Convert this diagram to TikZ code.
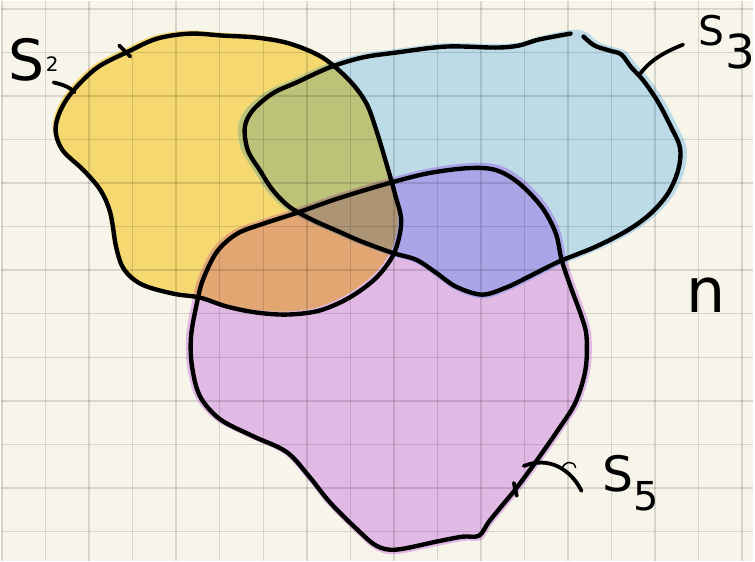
\documentclass[tikz,border=0pt]{standalone}
\usepackage{fontspec}
\setmainfont{DejaVu Sans}
\usetikzlibrary{arrows.meta,positioning}
\definecolor{paper}{RGB}{247,245,233}
\definecolor{setyellow}{RGB}{245,216,112}
\definecolor{setblue}{RGB}{189,219,231}
\definecolor{setpurple}{RGB}{224,186,229}
\definecolor{mixyb}{RGB}{188,194,120}
\definecolor{mixyp}{RGB}{225,166,114}
\definecolor{mixbp}{RGB}{169,165,230}
\definecolor{mixall}{RGB}{172,148,116}

% blob outlines, pixel units (y down)
\newcommand\blobStwo{plot[smooth cycle, tension=0.55] coordinates {
  (128,51) (157,38) (190,33) (223,35) (257,37) (290,43) (323,57) (350,80)
  (367,103) (377,130) (387,163) (396,195) (402,222) (395,253) (377,278)
  (350,298) (320,311) (288,315) (257,313) (227,307) (200,298) (173,294)
  (142,285) (124,270) (116,248) (110,213) (100,190) (83,170) (62,150)
  (55,130) (60,110) (73,90) (97,67)}}
\newcommand\blobSthree{plot[smooth cycle, tension=0.55] coordinates {
  (585,36) (596,45) (611,50) (623,54) (633,67) (645,80) (660,102) (673,127)
  (682,148) (680,170) (670,193) (653,213) (630,230) (597,247) (560,262)
  (530,277) (507,288) (483,295) (457,287) (437,273) (417,260) (393,253)
  (363,242) (340,232) (313,220) (290,207) (273,190) (260,170) (248,150)
  (245,127) (253,110) (273,93) (297,82) (330,67) (363,57) (397,52) (447,46)
  (497,47) (520,45) (540,39) (572,33)}}
\newcommand\lineSthree{plot[smooth, tension=0.55] coordinates {
  (585,36) (596,45) (611,50) (623,54) (633,67) (645,80) (660,102) (673,127)
  (682,148) (680,170) (670,193) (653,213) (630,230) (597,247) (560,262)
  (530,277) (507,288) (483,295) (457,287) (437,273) (417,260) (393,253)
  (363,242) (340,232) (313,220) (290,207) (273,190) (260,170) (248,150)
  (245,127) (253,110) (273,93) (297,82) (330,67) (363,57) (397,52) (447,46)
  (497,47) (520,45) (540,39) (572,33)}}
\newcommand\blobSfive{plot[smooth cycle, tension=0.55] coordinates {
  (203,280) (217,252) (237,234) (263,224) (297,213) (340,198) (390,183)
  (430,173) (470,168) (497,170) (520,183) (543,207) (557,233) (563,260)
  (572,287) (583,317) (588,337) (587,370) (577,403) (560,430) (537,463)
  (517,490) (503,507) (490,523) (480,537) (463,538) (437,543) (397,551)
  (377,547) (357,530) (330,503) (310,478) (287,453) (253,437) (220,420)
  (200,397) (192,367) (191,337) (197,303)}}

\begin{document}
\begin{tikzpicture}[x=1pt, y=-1pt,
    gridline/.style={black, opacity=0.13, line width=1.5pt},
    outline/.style={black, line width=4.4pt, line cap=round, line join=round},
    leader/.style={black, line width=3.8pt, line cap=round},
    padS2/.style={shift={(-3,-3)}},
    padS3/.style={scale around={1.03:(465,165)}},
    padS5/.style={scale around={1.025:(390,370)}},
    setlabel/.style={anchor=base west, inner sep=0pt, text=black}
  ]
    \fill[paper] (0,0) rectangle (755,562);

    % plain fills
    \fill[setyellow, padS2] \blobStwo;
    \fill[setblue, padS3] \blobSthree;
    \fill[setpurple, padS5] \blobSfive;

    % overlaps
    \begin{scope}
      \clip[padS2] \blobStwo;
      \fill[mixyb, padS3] \blobSthree;
      \fill[mixyp, padS5] \blobSfive;
    \end{scope}
    \begin{scope}
      \clip[padS3] \blobSthree;
      \fill[mixbp, padS5] \blobSfive;
    \end{scope}
    \begin{scope}
      \clip[padS2] \blobStwo;
      \clip[padS3] \blobSthree;
      \fill[mixall, padS5] \blobSfive;
    \end{scope}

    % squared paper
    \foreach \i in {0,...,17}
      \draw[gridline] ({1.3+43.7*\i},0) -- ({1.3+43.7*\i},562);
    \foreach \j in {0,...,12}
      \draw[gridline] (0,{8.3+43.7*\j}) -- (755,{8.3+43.7*\j});

    % outlines
    \draw[outline] \blobStwo;
    \draw[outline] \lineSthree;
    \draw[outline] \blobSfive;
    \draw[leader] (119,45) -- (130,56);
    \draw[leader] (515,484) -- (518,497);

    % labels
    \node[setlabel] (lblS2) at (8,80)
      {\fontsize{57}{57}\selectfont S\kern1pt\raisebox{9pt}{\fontsize{20}{20}\selectfont 2}};
    \node[setlabel] (lblS3) at (700,45)
      {\fontsize{41}{41}\selectfont S\kern1pt\raisebox{-23pt}{\fontsize{47}{47}\selectfont 3}};
    \node[setlabel] (lblS5) at (604,493)
      {\fontsize{49}{49}\selectfont S\kern0pt\raisebox{-19pt}{\fontsize{40}{40}\selectfont 5}};
    \node[setlabel] (lblOmega) at (688,313) {\fontsize{62}{62}\selectfont n};

    % leaders
    \coordinate (s2from) at (53,82);
    \coordinate (s2tip) at (74,92);
    \coordinate (s3from) at (685,44);
    \coordinate (s3tip) at (642,73);
    \coordinate (s5from) at (525,467);
    \coordinate (s5tip) at (583,492);
    \draw[leader] (s2from) .. controls (62,84) and (70,87) .. (s2tip);
    \draw[leader] (s3from) .. controls (665,52) and (652,60) .. (s3tip);
    \draw[leader] (s5from) .. controls (550,457) and (572,470) .. (s5tip);
    \draw[black, line width=1.5pt] (563,470) .. controls (566,462) and (576,461) .. (577,469);
  \end{tikzpicture}
\end{document}
